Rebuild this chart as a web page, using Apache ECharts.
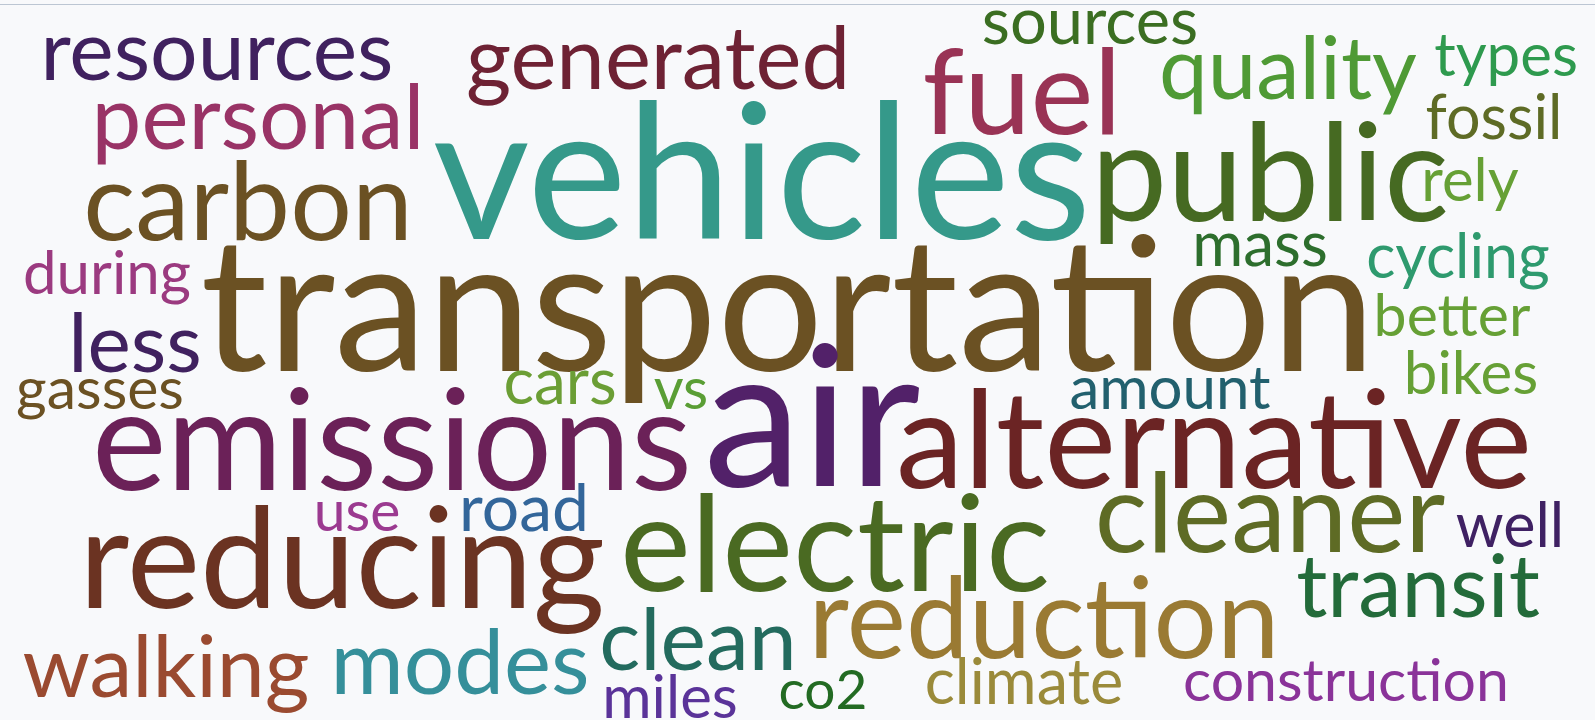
<!DOCTYPE html>
<html lang="en">
	<head>
		<meta charset="utf-8">
		<title>word cloud</title>
		<style>
			html, body { margin: 0; padding: 0; background: #f8f9fb; }
			#main { width: 1595px; height: 720px; position: relative; }
			#topLine { position: absolute; left: 0; top: 4px; width: 1595px; height: 1px; background: #bcc6d3; z-index: 5; }
		</style>
	</head>
	<body>
		<div id="topLine"></div>
		<div id="main"></div>

		<script src="https://cdn.jsdelivr.net/npm/echarts@6/dist/echarts.min.js"></script>
		<script>
			// words and their weights (font size in px)
			var words = ['transportation','vehicles','air','public','emissions','alternative','reducing','electric',
				'carbon','fuel','reduction','cleaner','resources','personal','generated','quality','less','walking',
				'modes','clean','transit','sources','types','fossil','rely','mass','cycling','better','bikes','amount',
				'during','gasses','cars','vs','use','road','miles','co2','climate','well','construction'];
			var weights = [187,188,197,136,141,136,139,134,
				109,119,112,110,84,89,87,87,82,86,
				89,86,87,65,60,61,60,62,61,59,60,60,
				60,59,64,58,57,66,60,55,63,61,59];

			// layout: centre x and baseline y of every word
			var posX = [788,762,812,1270,392,1214,342,835,
				248,1022,1044,1270,217,258,658,1288,135,166,
				460,698,1418,1090,1506,1494,1470,1260,1458,1452,1471,1170,
				107,100,560,681,357,524,670,823,1024,1510,1346];
			var posY = [367,235,482,218,487,485,605,588,
				238,131,655,550,78,147,87,97,370,695,
				692,668,615,43,75,138,200,265,277,335,393,408,
				293,408,403,408,530,530,717,708,703,546,700];

			var colors = ['#6b5123','#35998a','#522169','#466a22','#6b2158','#6b2424','#6b3322','#4a6a22',
				'#6b5123','#993355','#9a7a33','#5e6b25','#40215f','#993366','#6e2234','#4f9a35','#40215f','#9a4a30',
				'#358f9a','#236b5e','#236b3a','#3b6e22','#2e9a4e','#5e6b25','#66a035','#2d6e2d','#2e9a6e','#66a035','#66a035','#22606e',
				'#9b3a80','#6b5123','#6b9e35','#5a9e35','#9b3a90','#33669a','#5a3399','#236b23','#9a8a3a','#3f2163','#8a3399'];

			var midOffset = 0.30; // baseline -> middle of em box

			var seriesData = [];
			for (var i = 0; i < words.length; i++) {
				var fs = weights[i];
				seriesData.push({
					name: words[i],
					value: [posX[i], posY[i] - midOffset * fs],
					label: {
						fontSize: fs,
						color: colors[i]
					}
				});
			}

			var myChart = echarts.init(document.getElementById('main'));
			var option = {
				backgroundColor: '#f8f9fb',
				animation: false,
				grid: { left: 0, right: 0, top: 0, bottom: 0 },
				xAxis: { type: 'value', min: 0, max: 1595, show: false },
				yAxis: { type: 'value', min: 0, max: 720, inverse: true, show: false },
				series: [{
					type: 'scatter',
					symbolSize: 1,
					itemStyle: { color: 'transparent', opacity: 1 },
					silent: true,
					data: seriesData,
					label: {
						show: true,
						opacity: 1,
						position: 'inside',
						formatter: '{b}',
						fontFamily: 'Lato',
						align: 'center',
						verticalAlign: 'middle'
					}
				}]
			};
			myChart.setOption(option);
		</script>
	</body>
</html>
